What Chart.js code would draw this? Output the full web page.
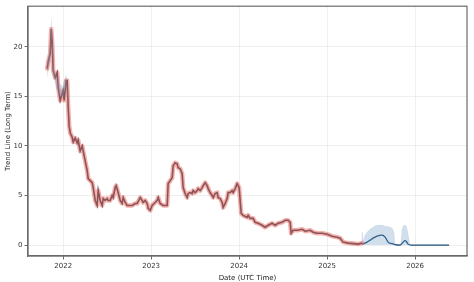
<!DOCTYPE html>
<html>
<head>
<meta charset="utf-8">
<script src="https://cdn.jsdelivr.net/npm/chart.js@4"></script>
<style>
  html, body { margin: 0; padding: 0; background: #fff; }
  #wrap { width: 474px; height: 282px; }
</style>
</head>
<body>
<div id="wrap"><canvas id="trend"></canvas></div>
<script>
// decimal years
const histDates = [2021.818, 2021.830, 2021.852, 2021.864, 2021.875, 2021.886, 2021.909, 2021.932, 2021.943, 2021.966,
    2021.989, 2022.000, 2022.011, 2022.034, 2022.045, 2022.057, 2022.068, 2022.080, 2022.102, 2022.114,
    2022.136, 2022.159, 2022.170, 2022.193, 2022.216, 2022.227, 2022.250, 2022.273, 2022.284, 2022.307,
    2022.330, 2022.341, 2022.364, 2022.386, 2022.398, 2022.420, 2022.443, 2022.455, 2022.477, 2022.500,
    2022.511, 2022.534, 2022.557, 2022.568, 2022.591, 2022.602, 2022.625, 2022.648, 2022.670, 2022.682,
    2022.705, 2022.727, 2022.739, 2022.784, 2022.818, 2022.841, 2022.875, 2022.898, 2022.909, 2022.932,
    2022.955, 2022.966, 2022.989, 2023.011, 2023.045, 2023.068, 2023.080, 2023.102, 2023.136, 2023.182,
    2023.193, 2023.216, 2023.239, 2023.250, 2023.273, 2023.295, 2023.307, 2023.330, 2023.352, 2023.364,
    2023.386, 2023.409, 2023.420, 2023.443, 2023.466, 2023.477, 2023.500, 2023.523, 2023.534, 2023.557,
    2023.580, 2023.591, 2023.614, 2023.636, 2023.648, 2023.670, 2023.693, 2023.705, 2023.727, 2023.750,
    2023.761, 2023.784, 2023.807, 2023.818, 2023.841, 2023.864, 2023.875, 2023.898, 2023.920, 2023.932,
    2023.955, 2023.977, 2024.000, 2024.023, 2024.045, 2024.091, 2024.102, 2024.125, 2024.159, 2024.182,
    2024.216, 2024.261, 2024.295, 2024.330, 2024.375, 2024.409, 2024.443, 2024.489, 2024.523, 2024.557,
    2024.580, 2024.591, 2024.614, 2024.659, 2024.716, 2024.750, 2024.807, 2024.841, 2024.886, 2024.943,
    2025.000, 2025.057, 2025.114, 2025.148, 2025.182, 2025.239, 2025.295, 2025.352, 2025.398];
const histValues = [17.8, 18.5, 19.3, 21.8, 20.5, 17.6, 16.9, 17.4, 15.9, 14.6,
    15.3, 15.6, 14.6, 16.6, 16.6, 13.9, 12.0, 11.3, 10.9, 10.4,
    10.8, 10.3, 10.6, 9.5, 10.0, 9.5, 8.5, 7.5, 6.7, 6.5,
    6.3, 5.8, 4.5, 4.0, 5.5, 4.5, 4.0, 4.7, 4.5, 4.7,
    4.5, 4.5, 5.0, 4.8, 5.8, 6.0, 5.3, 4.5, 4.2, 4.8,
    4.3, 4.0, 4.0, 4.0, 4.2, 4.2, 4.8, 4.5, 4.3, 4.5,
    4.2, 3.7, 3.5, 4.0, 4.3, 4.5, 4.8, 4.2, 4.0, 4.0,
    6.2, 6.5, 6.8, 8.0, 8.3, 8.2, 7.8, 7.7, 7.2, 5.8,
    5.2, 4.8, 5.2, 5.3, 5.2, 5.5, 5.3, 5.5, 5.7, 5.5,
    5.8, 6.0, 6.3, 6.0, 5.7, 5.3, 5.0, 4.8, 5.2, 5.3,
    4.8, 4.7, 4.3, 3.8, 4.2, 4.7, 5.3, 5.3, 5.5, 5.3,
    5.7, 6.2, 5.8, 3.2, 3.0, 2.8, 3.0, 2.7, 2.7, 2.3,
    2.2, 2.0, 1.8, 2.0, 2.2, 2.0, 2.2, 2.3, 2.5, 2.5,
    2.3, 1.2, 1.5, 1.5, 1.6, 1.4, 1.5, 1.3, 1.2, 1.2,
    1.1, 0.9, 0.8, 0.7, 0.3, 0.2, 0.15, 0.1, 0.2];

// uncertainty band on the early spike
const histBandDates = [2021.818, 2021.852, 2021.864, 2021.875, 2021.886, 2021.943, 2021.989, 2022.034, 2022.057];
const histBandHigh = [18.6, 20.2, 23.1, 21.5, 18.2, 16.5, 16.0, 17.2, 14.5];
const histBandLow = [16.9, 18.6, 20.8, 19.6, 17.0, 15.3, 14.8, 16.0, 13.4];

const forecastDates = [2025.398, 2025.432, 2025.455, 2025.489, 2025.523, 2025.568, 2025.625, 2025.659, 2025.693,
    2025.739, 2025.773, 2025.830, 2025.864, 2025.886, 2025.898, 2025.920, 2025.955, 2026.386];
const forecastValues = [0.1, 0.2, 0.3, 0.5, 0.7, 0.9, 1.0, 0.8, 0.3,
    0.15, 0.05, 0.0, 0.3, 0.45, 0.4, 0.1, 0.0, 0.0];

const bandDates = [2025.395, 2025.398, 2025.410, 2025.432, 2025.455, 2025.489, 2025.523, 2025.568, 2025.625,
    2025.659, 2025.716, 2025.750, 2025.762, 2025.773, 2025.830, 2025.842, 2025.852, 2025.886, 2025.909,
    2025.932, 2025.943, 2026.386];
const bandHigh = [0.0, 1.3, 0.4, 1.0, 1.3, 1.6, 1.8, 2.0, 2.0,
    1.9, 1.8, 1.5, 1.0, 0.0, 0.0, 0.5, 1.5, 2.0, 1.6,
    0.5, 0.0, 0.0];

const yearTicks = [2022, 2023, 2024, 2025, 2026];
const valueTicks = [0, 5, 10, 15, 20];

const pairs = (xs, ys) => xs.map((x, i) => ({x: x, y: ys[i]}));

const frame = {
    id: "frame",
    afterDraw(chart) {
        const {ctx, chartArea: a} = chart;
        ctx.save();
        ctx.strokeStyle = "#6a6a6a";
        ctx.lineWidth = 1.2;
        ctx.strokeRect(a.left, a.top, a.right - a.left, a.bottom - a.top);
        ctx.restore();
    }
};

const font = {family: "DejaVu Sans", size: 7};

new Chart(document.querySelector("#trend").getContext("2d"), {
    type: "line",
    data: {
        datasets: [{
            data: pairs(histBandDates, histBandHigh),
            borderWidth: 0,
            pointRadius: 0,
            backgroundColor: "rgba(120,150,175,0.35)",
            fill: "+1",
            tension: 0
        }, {
            data: pairs(histBandDates, histBandLow),
            borderWidth: 0,
            pointRadius: 0,
            fill: false
        }, {
            data: pairs(histDates, histValues),
            borderColor: "rgba(235,100,85,0.5)",
            borderWidth: 4.5,
            pointRadius: 0,
            fill: false,
            borderJoinStyle: "round",
            borderCapStyle: "round"
        }, {
            data: pairs(histDates, histValues),
            borderColor: "#2a4561",
            borderWidth: 1.6,
            pointRadius: 0,
            fill: false
        }, {
            data: pairs(bandDates, bandHigh),
            borderColor: "rgba(90,140,180,0.25)",
            borderWidth: 0.5,
            pointRadius: 0,
            backgroundColor: "rgba(90,140,185,0.28)",
            fill: "origin",
            cubicInterpolationMode: "monotone"
        }, {
            data: pairs(forecastDates, forecastValues),
            borderColor: "#1f4f78",
            borderWidth: 1.3,
            pointRadius: 0,
            fill: false,
            cubicInterpolationMode: "monotone"
        }]
    },
    options: {
        responsive: true,
        maintainAspectRatio: false,
        animation: false,
        layout: {padding: {top: 5, right: 7, left: 4, bottom: 0}},
        plugins: {legend: {display: false}, tooltip: {enabled: false}},
        scales: {
            x: {
                type: "linear",
                min: 2021.6,
                max: 2026.59,
                afterBuildTicks: (scale) => { scale.ticks = yearTicks.map(v => ({value: v})); },
                afterFit: (scale) => { scale.height = 26; },
                ticks: {
                    color: "#333",
                    font: font,
                    padding: 2,
                    maxRotation: 0,
                    callback: (v) => String(v)
                },
                grid: {color: "#ebebeb", tickColor: "#444", tickLength: 3.5, lineWidth: 0.8},
                border: {color: "#6a6a6a", width: 1.2},
                title: {display: true, text: "Date (UTC Time)", color: "#222", font: font, padding: {top: 1, bottom: 0}}
            },
            y: {
                min: -1.1,
                max: 24.1,
                afterBuildTicks: (scale) => { scale.ticks = valueTicks.map(v => ({value: v})); },
                afterFit: (scale) => { scale.width = 24; },
                ticks: {color: "#333", font: font, padding: 2},
                grid: {color: "#ebebeb", tickColor: "#444", tickLength: 3.5, lineWidth: 0.8},
                border: {color: "#6a6a6a", width: 1.2},
                title: {display: true, text: "Trend Line (Long Term)", color: "#222", font: font, padding: {top: 0, bottom: 1}}
            }
        }
    },
    plugins: [frame]
});
</script>
</body>
</html>
